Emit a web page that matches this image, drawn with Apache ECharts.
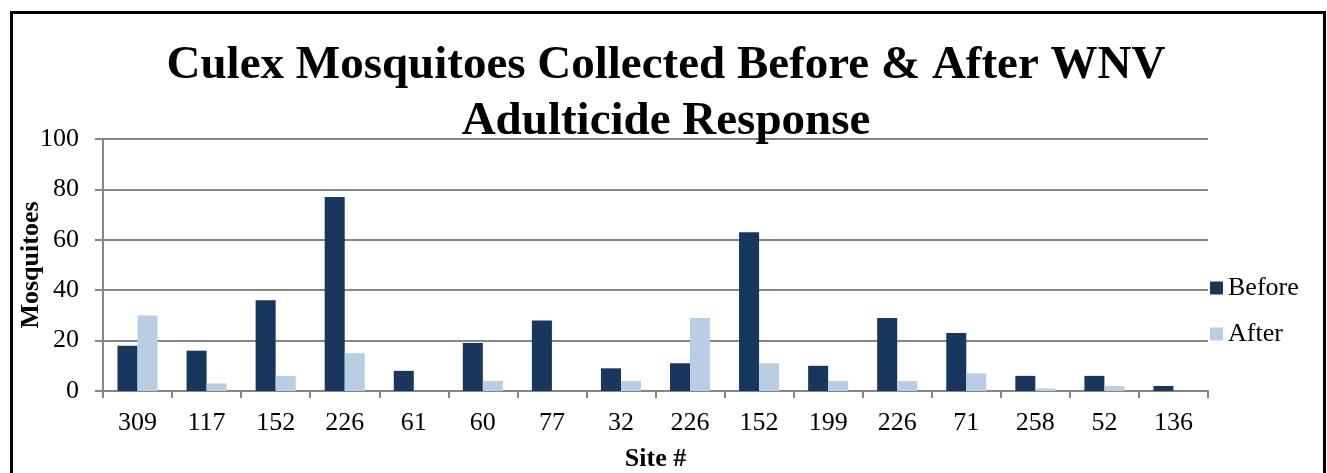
<!DOCTYPE html>
<html>
<head>
<meta charset="utf-8">
<script src="https://cdn.jsdelivr.net/npm/echarts@6/dist/echarts.min.js"></script>
<style>
  html, body { margin: 0; padding: 0; background: #fff; }
  #chart { width: 1327px; height: 473px; }
  .frame {
    position: absolute;
    left: 10px;
    top: 11px;
    width: 1310px;
    height: 480px;
    border: 3px solid #000;
    pointer-events: none;
  }
</style>
</head>
<body>
<div id="chart"></div>
<div class="frame"></div>
<script>
  const sites = ['309', '117', '152', '226', '61', '60', '77', '32', '226', '152', '199', '226', '71', '258', '52', '136']
  const before = [18, 16, 36, 77, 8, 19, 28, 9, 11, 63, 10, 29, 23, 6, 6, 2]
  const after = [30, 3, 6, 15, 0, 4, 0, 4, 29, 11, 4, 4, 7, 1, 2, 0]

  const serif = '"Liberation Serif", "Times New Roman", serif'
  const chart = echarts.init(document.getElementById('chart'))

  // categories repeat (226, 152), so the axis uses indices and shows the site names
  const idx = sites.map((s, i) => String(i))

  let option = {
    animation: false,
    title: {
      text: 'Culex Mosquitoes Collected Before & After WNV\nAdulticide Response',
      left: 661,
      top: 33,
      textAlign: 'center',
      textStyle: {
        fontFamily: serif,
        fontWeight: 'bold',
        fontSize: 47,
        lineHeight: 56,
        color: '#000'
      }
    },
    legend: {
      orient: 'vertical',
      left: 1210,
      top: 275,
      padding: 0,
      itemWidth: 13,
      itemHeight: 13,
      itemGap: 20,
      icon: 'rect',
      textStyle: { fontFamily: serif, fontSize: 26, color: '#000' },
      data: ['Before', 'After']
    },
    grid: {
      left: 103,
      right: 119,
      top: 139,
      bottom: 82,
      outerBoundsMode: 'none'
    },
    xAxis: {
      type: 'category',
      data: idx,
      name: 'Site #',
      nameLocation: 'middle',
      nameGap: 55,
      nameMoveOverlap: false,
      nameTextStyle: { fontFamily: serif, fontWeight: 'bold', fontSize: 26, color: '#000' },
      axisLine: { lineStyle: { color: '#868686', width: 2 } },
      axisTick: { show: true, length: 7, lineStyle: { color: '#868686', width: 2 } },
      axisLabel: {
        formatter: v => sites[+v],
        fontFamily: serif,
        fontSize: 26,
        color: '#000',
        margin: 19
      }
    },
    yAxis: {
      type: 'value',
      min: 0,
      max: 100,
      interval: 20,
      name: 'Mosquitoes',
      nameLocation: 'middle',
      nameGap: 59,
      nameMoveOverlap: false,
      nameTextStyle: { fontFamily: serif, fontWeight: 'bold', fontSize: 26, color: '#000' },
      axisLine: { show: true, lineStyle: { color: '#868686', width: 2 } },
      axisTick: { show: true, length: 8, lineStyle: { color: '#868686', width: 2 } },
      splitLine: { lineStyle: { color: '#868686', width: 2 } },
      axisLabel: { fontFamily: serif, fontSize: 26, color: '#000', margin: 24 }
    },
    series: [
      {
        name: 'Before',
        type: 'bar',
        data: before,
        barGap: '0%',
        barCategoryGap: '42%',
        itemStyle: { color: '#17375E' }
      },
      {
        name: 'After',
        type: 'bar',
        data: after,
        itemStyle: { color: '#B9CDE5' }
      }
    ]
  }
  chart.setOption(option)
</script>
</body>
</html>
